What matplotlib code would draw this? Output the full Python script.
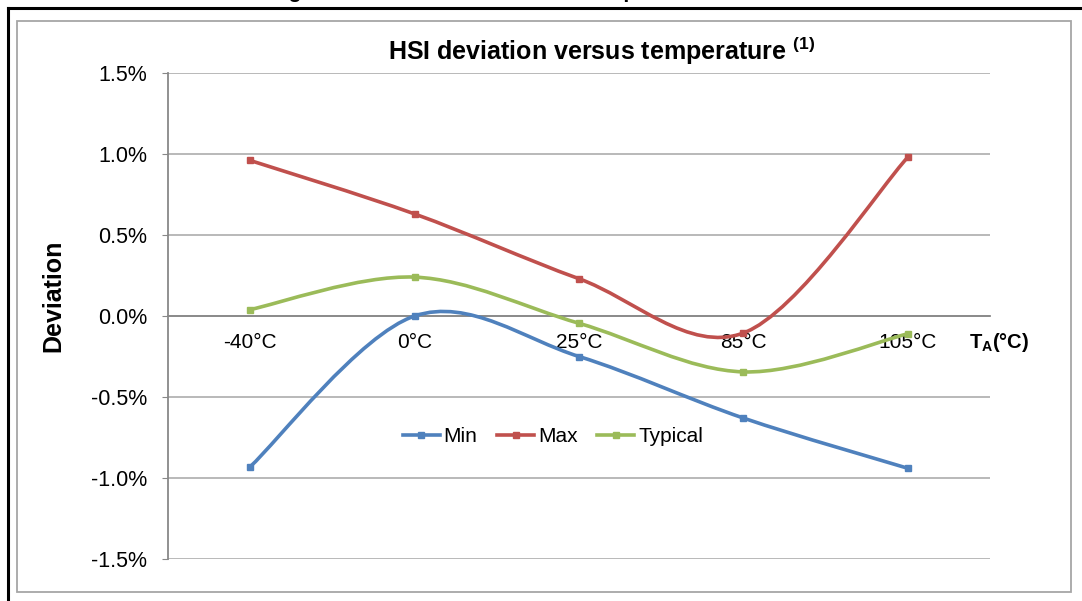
import matplotlib
matplotlib.use("Agg")
import matplotlib.pyplot as plt
import numpy as np
from matplotlib.path import Path
from matplotlib.patches import PathPatch, Rectangle
from matplotlib.lines import Line2D

# data (deviation in %)
categories = ["-40°C", "0°C", "25°C", "85°C", "105°C"]
min_dev = [-0.93, 0.00, -0.25, -0.63, -0.94]
max_dev = [0.96, 0.63, 0.23, -0.105, 0.98]
typ_dev = [0.04, 0.24, -0.045, -0.345, -0.11]
y_ticks = [-1.5, -1.0, -0.5, 0.0, 0.5, 1.0, 1.5]

SERIES = [
    ("Min", min_dev, "#4F81BD"),
    ("Max", max_dev, "#C0504D"),
    ("Typical", typ_dev, "#9BBB59"),
]

plt.rcParams["font.family"] = ["Liberation Sans", "DejaVu Sans"]
plt.rcParams["mathtext.fontset"] = "custom"
plt.rcParams["mathtext.rm"] = "Liberation Sans"
plt.rcParams["mathtext.bf"] = "Liberation Sans:bold"


def smooth_path(xs, ys):
    """Excel-like smoothed line: Catmull-Rom as cubic Bezier segments."""
    pts = np.column_stack([xs, ys]).astype(float)
    ext = np.vstack([pts[0], pts, pts[-1]])
    verts = [pts[0]]
    codes = [Path.MOVETO]
    for i in range(len(pts) - 1):
        p0, p1, p2, p3 = ext[i], ext[i + 1], ext[i + 2], ext[i + 3]
        verts += [p1 + (p2 - p0) / 6.0, p2 - (p3 - p1) / 6.0, p2]
        codes += [Path.CURVE4] * 3
    return Path(verts, codes)


W, H = 1082, 601
fig = plt.figure(figsize=(W / 100, H / 100), dpi=100)
ax = fig.add_axes([168 / W, 1 - 559 / H, (990 - 168) / W, (559 - 73) / H])

x = np.arange(len(categories))
for name, vals, color in SERIES:
    ax.add_patch(PathPatch(smooth_path(x, vals), facecolor="none", edgecolor=color,
                           linewidth=2.6, capstyle="round", zorder=3))
    ax.plot(x, vals, linestyle="none", marker="s", markersize=4.8, color=color, zorder=4)
    ax.plot([], [], color=color, linewidth=2.6, marker="s", markersize=4.8, label=name)

ax.set_xlim(-0.5, len(categories) - 0.5)
ax.set_ylim(-1.5, 1.5)

for side in ("top", "right"):
    ax.spines[side].set_visible(False)
ax.spines["left"].set_color("#888888")
ax.spines["left"].set_linewidth(1.3)
ax.spines["bottom"].set_position(("data", 0))
ax.spines["bottom"].set_color("#888888")
ax.spines["bottom"].set_linewidth(1.3)

ax.set_yticks(y_ticks)
ax.set_yticklabels([f"{v:.1f}%" for v in y_ticks])
ax.set_xticks(x)
ax.set_xticklabels(categories)
ax.tick_params(axis="y", length=4.5, color="#888888", pad=10.5, labelsize=15.5)
ax.tick_params(axis="x", length=0, pad=12.5, labelsize=15)
ax.yaxis.grid(True, color="#a6a6a6", linewidth=1.1)
ax.set_axisbelow(True)

fig.text(53 / W, 1 - 296 / H, "Deviation", fontsize=18, fontweight="bold",
         rotation=90, ha="center", va="center")
fig.text(999 / W, 1 - 342 / H, r"T$_{\mathbf{A}}$(°C)", fontsize=14.5, fontweight="bold",
         ha="center", va="center")
fig.text(602 / W, 1 - 51 / H, r"HSI deviation versus temperature $^{\mathbf{(1)}}$",
         fontsize=18, fontweight="bold", ha="center", va="center")
# caption of the source page, cut off at the top edge
fig.text(270 / W, 1 + 2 / H, "Figure 13. HSI deviation versus temperature",
         fontsize=15, fontweight="bold", ha="left", va="baseline")

ax.legend(loc="center", bbox_to_anchor=(553 / W, 1 - 437 / H), bbox_transform=fig.transFigure,
          ncol=3, frameon=False, fontsize=15, handlelength=1.75, handletextpad=0.2,
          columnspacing=0.95)

# page frame and chart frame
fig.add_artist(Line2D([8 / W, 1], [1 - 8 / H, 1 - 8 / H], color="black", linewidth=2.2,
                      transform=fig.transFigure))
fig.add_artist(Line2D([8 / W, 8 / W], [1 - 8 / H, 0], color="black", linewidth=2.2,
                      transform=fig.transFigure))
fig.add_artist(Rectangle((17 / W, 1 - 592 / H), (1071 - 17) / W, (592 - 21) / H,
                         transform=fig.transFigure, facecolor="none", edgecolor="#a6a6a6",
                         linewidth=1.3))

fig.savefig("out.png", dpi=100)
